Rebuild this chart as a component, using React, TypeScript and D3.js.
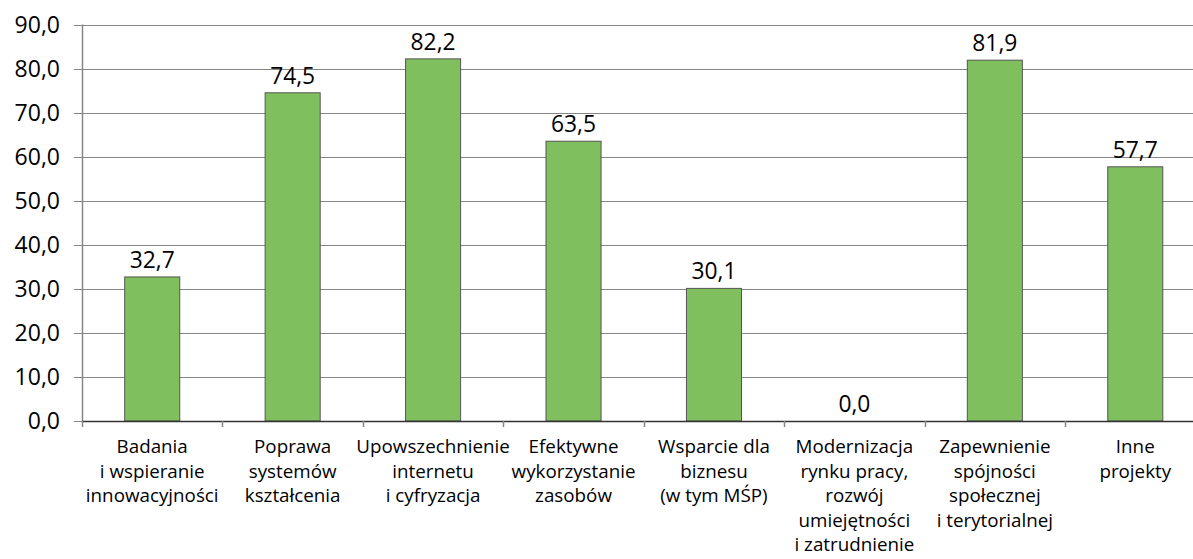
import React from "react";
import * as d3 from "d3";

const categories: string[][] = [
  ["Badania", "i wspieranie", "innowacyjności"],
  ["Poprawa", "systemów", "kształcenia"],
  ["Upowszechnienie", "internetu", "i cyfryzacja"],
  ["Efektywne", "wykorzystanie", "zasobów"],
  ["Wsparcie dla", "biznesu", "(w tym MŚP)"],
  ["Modernizacja", "rynku pracy,", "rozwój", "umiejętności", "i zatrudnienie"],
  ["Zapewnienie", "spójności", "społecznej", "i terytorialnej"],
  ["Inne", "projekty"],
];
const values: number[] = [32.7, 74.5, 82.2, 63.5, 30.1, 0.0, 81.9, 57.7];
const yTicks: number[] = [0, 10, 20, 30, 40, 50, 60, 70, 80, 90];

const W = 1193;
const H = 559;
const left = 82;
const right = 1205.5;
const top = 24.5;
const bottom = 421;
const FONT = "'Open Sans', 'DejaVu Sans', sans-serif";

const fmt = (v: number) => v.toFixed(1).replace(".", ",");

export default function App() {
  const keys = categories.map((_, i) => String(i));
  const x = d3.scaleBand<string>().domain(keys).range([left, right]).padding(0);
  const y = d3.scaleLinear().domain([0, 90]).range([bottom, top]);
  const barW = x.bandwidth() * 0.392;

  return (
    <svg
      width={W}
      height={H}
      style={{ position: "absolute", left: 0, top: 0, display: "block", background: "#fff" }}
    >
      {yTicks.filter((t) => t !== 0).map((t) => (
        <line key={"g" + t} x1={left} x2={right} y1={Math.round(y(t)) + 0.5} y2={Math.round(y(t)) + 0.5} stroke="#868686" strokeWidth={1} />
      ))}
      {yTicks.map((t) => (
        <g key={"t" + t}>
          <line x1={74} x2={left} y1={Math.round(y(t)) + 0.5} y2={Math.round(y(t)) + 0.5} stroke="#868686" strokeWidth={1} />
          <text x={60} y={y(t)} dy="0.36em" textAnchor="end" fontFamily={FONT} fontSize={23} fill="#000">
            {fmt(t)}
          </text>
        </g>
      ))}
      <line x1={left + 0.5} x2={left + 0.5} y1={top} y2={bottom} stroke="#868686" strokeWidth={1.5} />
      {values.map((v, i) => {
        const cx = (x(keys[i]) as number) + x.bandwidth() / 2;
        return (
          <g key={"b" + i}>
            {v > 0 && (
              <rect x={cx - barW / 2} y={y(v)} width={barW} height={bottom - y(v)} fill="#80BF5E" stroke="#555" strokeWidth={1} />
            )}
            <text x={cx} y={y(v) - 9} textAnchor="middle" fontFamily={FONT} fontSize={22.8} fill="#000">
              {fmt(v)}
            </text>
          </g>
        );
      })}
      <line x1={left} x2={right} y1={bottom + 0.5} y2={bottom + 0.5} stroke="#333" strokeWidth={1.5} />
      {keys.map((k, i) => (
        <line key={"xt" + i} x1={Math.round(x(k) as number) + 0.5} x2={Math.round(x(k) as number) + 0.5} y1={bottom} y2={bottom + 6} stroke="#868686" strokeWidth={1.5} />
      ))}
      {categories.map((lines, i) => {
        const cx = (x(keys[i]) as number) + x.bandwidth() / 2;
        return (
          <text key={"c" + i} x={cx} textAnchor="middle" fontFamily={FONT} fontSize={18.8} fill="#000">
            {lines.map((l, j) => (
              <tspan key={j} x={cx} y={453 + j * 24.5}>
                {l}
              </tspan>
            ))}
          </text>
        );
      })}
    </svg>
  );
}
